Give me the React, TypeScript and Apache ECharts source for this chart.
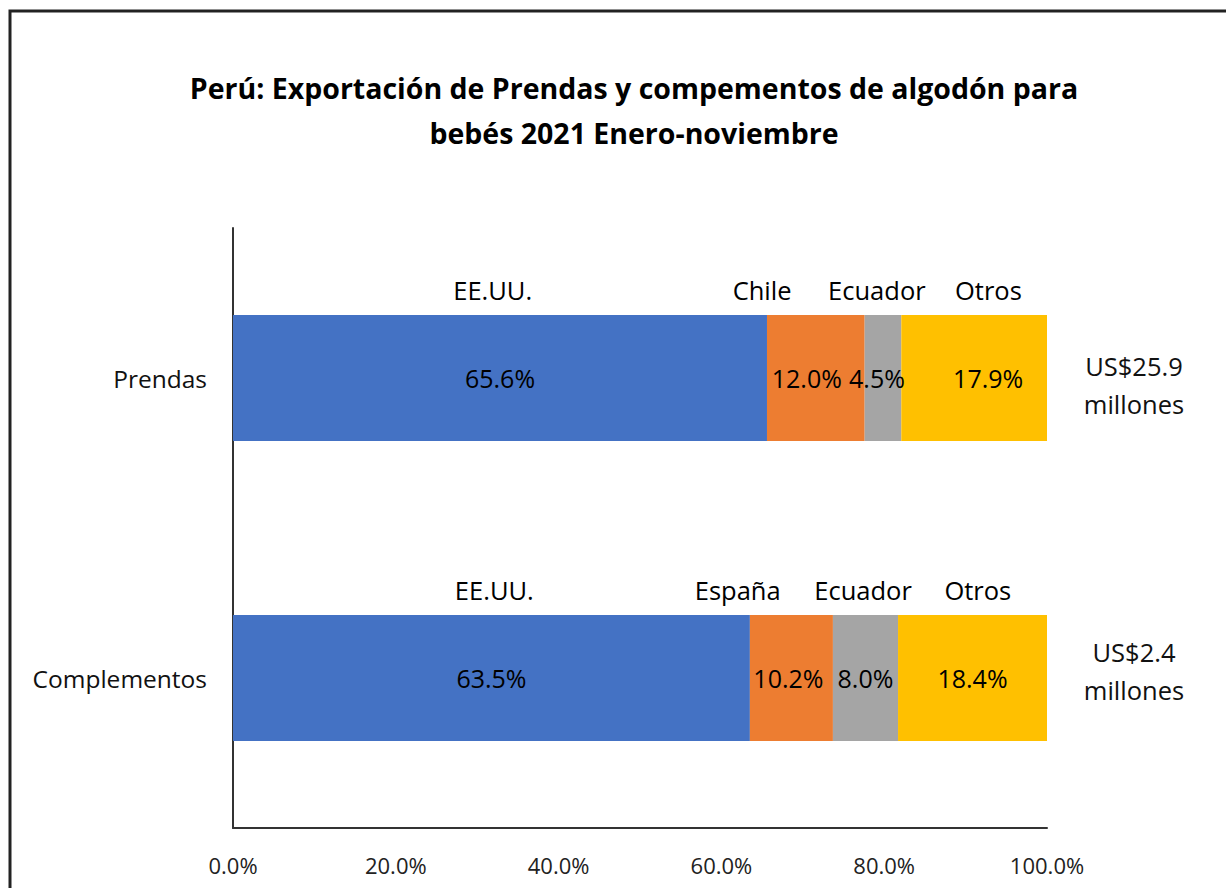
import React, { useEffect, useRef } from "react";
import * as echarts from "echarts";

const categories = ["Complementos", "Prendas"];
const seriesNames = ["EE.UU.", "Segundo", "Ecuador", "Otros"];
const eeuu = [63.5, 65.6];
const segundo = [10.2, 12.0];
const ecuador = [8.0, 4.5];
const otros = [18.4, 17.9];
const totalsAmount = ["US$2.4", "US$25.9"];
const totalsUnit = ["millones", "millones"];
const colors = ["#4472C4", "#ED7D31", "#A5A5A5", "#FFC000"];

// country annotation labels above each bar: [x (%), category, text]
const countryLabels: [number, string, string][] = [
  [31.9, "Prendas", "EE.UU."],
  [65.0, "Prendas", "Chile"],
  [79.1, "Prendas", "Ecuador"],
  [92.8, "Prendas", "Otros"],
  [32.1, "Complementos", "EE.UU."],
  [62.0, "Complementos", "España"],
  [77.4, "Complementos", "Ecuador"],
  [91.5, "Complementos", "Otros"],
];

// horizontal nudges of the in-bar percentage labels (per series, per category)
const labelNudge = [
  [0, 0],
  [-3, -9],
  [0, -6],
  [0, 14],
];

const xTicks = [0, 20, 40, 60, 80, 100];

const FONT = "'Open Sans', 'Noto Sans', sans-serif";

export default function App() {
  const ref = useRef<HTMLDivElement>(null);
  useEffect(() => {
    if (!ref.current) return;
    const chart = echarts.init(ref.current, undefined, { renderer: "svg" });
    const values = [eeuu, segundo, ecuador, otros];
    chart.setOption({
      animation: false,
      backgroundColor: "#ffffff",
      textStyle: { fontFamily: FONT },
      title: {
        text: "Perú: Exportación de Prendas y compementos de algodón para\nbebés 2021 Enero-noviembre",
        left: 629,
        top: 60,
        textAlign: "center",
        textStyle: {
          fontFamily: FONT,
          fontSize: 28.5,
          fontWeight: "bold",
          color: "#000",
          lineHeight: 45,
        },
      },
      graphic: [
        {
          type: "polyline",
          shape: { points: [[10, 888], [10, 11], [1226, 11]] },
          style: { stroke: "#222", lineWidth: 3, fill: null },
          silent: true,
        },
      ],
      grid: { left: 233, right: 179, top: 228, bottom: 60 },
      xAxis: {
        type: "value",
        min: 0,
        max: 100,
        interval: 20,
        splitLine: { show: false },
        axisTick: { show: false },
        axisLine: { show: true, lineStyle: { color: "#333", width: 2 } },
        axisLabel: {
          margin: 26,
          fontSize: 22,
          color: "#222",
          fontFamily: FONT,
          formatter: (v: number) => (xTicks.includes(v) ? v.toFixed(1) + "%" : ""),
        },
      },
      yAxis: [
        {
          type: "category",
          data: categories,
          axisTick: { show: false },
          axisLine: { show: true, lineStyle: { color: "#333", width: 2 } },
          axisLabel: { margin: 26, fontSize: 24.5, color: "#111", fontFamily: FONT },
        },
        {
          type: "category",
          data: categories,
          position: "right",
          axisTick: { show: false },
          axisLine: { show: false },
          axisLabel: {
            margin: 87,
            align: "center",
            fontSize: 25.5,
            lineHeight: 38,
            color: "#111",
            fontFamily: FONT,
            formatter: (_v: string, i: number) =>
              i === 1
                ? `{down|${totalsAmount[i]}}\n{n|${totalsUnit[i]}}`
                : `{n|${totalsAmount[i]}}\n{up|${totalsUnit[i]}}`,
            rich: {
              n: { fontSize: 25.5, lineHeight: 38, color: "#111", fontFamily: FONT },
              down: { fontSize: 25.5, lineHeight: 52, padding: [14, 0, 0, 0], color: "#111", fontFamily: FONT },
              up: { fontSize: 25.5, lineHeight: 52, padding: [0, 0, 14, 0], color: "#111", fontFamily: FONT },
            },
          },
        },
      ],
      series: [
        ...values.map((vals, si) => ({
          type: "bar",
          name: seriesNames[si],
          stack: "total",
          barWidth: "42%",
          data: vals.map((v, ci) => ({
            value: v,
            label: { offset: [labelNudge[si][ci], 0] },
          })),
          itemStyle: { color: colors[si] },
          label: {
            show: true,
            position: "inside",
            fontSize: 25,
            color: "#000",
            textBorderWidth: 0,
            fontFamily: FONT,
            formatter: (p: any) => p.value.toFixed(1) + "%",
          },
        })),
        {
          type: "scatter",
          name: "países",
          symbolSize: 0,
          itemStyle: { color: "#000", opacity: 1 },
          data: countryLabels.map((d) => ({ value: [d[0], d[1]], name: d[2] })),
          label: {
            show: true,
            position: "inside",
            offset: [0, -88],
            fontSize: 25.5,
            color: "#000",
            textBorderWidth: 0,
            fontFamily: FONT,
            formatter: (p: any) => p.name,
          },
          silent: true,
        },
      ],
    });
    return () => chart.dispose();
  }, []);
  return (
    <div
      ref={ref}
      style={{ position: "fixed", left: 0, top: 0, width: 1226, height: 888 }}
    />
  );
}
